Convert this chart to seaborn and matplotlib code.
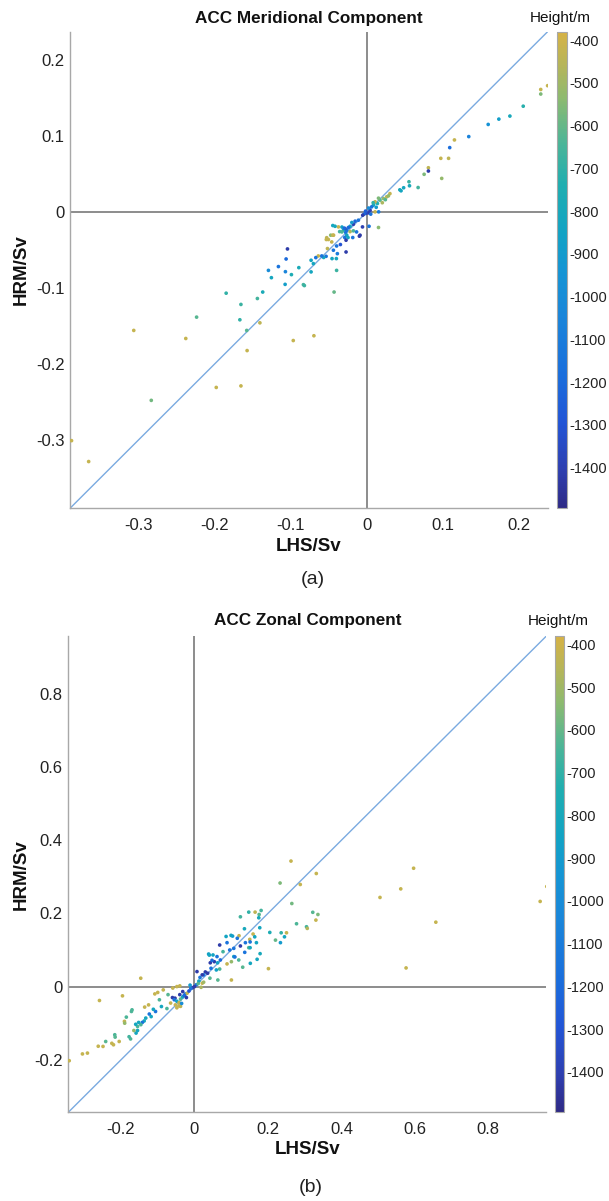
import numpy as np
import pandas as pd
import matplotlib
matplotlib.use("Agg")
import matplotlib.pyplot as plt
import seaborn as sns
from matplotlib.colors import LinearSegmentedColormap, Normalize
from matplotlib.cm import ScalarMappable

# ---------------- data: panel (a) ACC Meridional Component ----------------
a_lhs = [0.237, 0.228, 0.228, 0.205, 0.1875, 0.173, 0.159, 0.1335, 0.1147, 0.1085,
         0.0968, 0.107, 0.0805, 0.0805, 0.0749, 0.098, 0.067, 0.055, 0.0557, 0.048,
         0.0446, 0.043, 0.030, 0.0258, 0.0214, 0.017, 0.0136, 0.0105, 0.0083, 0.006,
         0.004, 0.0017, -0.0013, -0.004, -0.0057, 0.0048, 0.0105, 0.0152, 0.020, 0.024,
         0.012, 0.008, 0.015, 0.028, 0.002, -0.002, 0.015, 0.0026, -0.006, -0.0092,
         -0.0114, -0.0157, -0.018, -0.0223, -0.0245, -0.0267, -0.029, -0.031, -0.033, -0.0376,
         -0.042, -0.036, -0.028, -0.0267, -0.0223, -0.018, -0.0293, -0.025, -0.0188, -0.0101,
         -0.0276, -0.0477, -0.044, -0.0508, -0.053, -0.0464, -0.04, -0.052, -0.0442, -0.039,
         -0.0276, -0.0403, -0.046, -0.0538, -0.057, -0.0595, -0.064, -0.0673, -0.0735, -0.0705,
         -0.0735, -0.0896, -0.0993, -0.1045, -0.1063, -0.1164, -0.1072, -0.1295, -0.1256, -0.1076,
         -0.0836, -0.0823, -0.04, -0.0433, -0.185, -0.144, -0.137, -0.1656, -0.2238, -0.167,
         -0.1407, -0.158, -0.3063, -0.238, -0.1575, -0.0969, -0.0698, -0.198, -0.1656, -0.2833,
         -0.3655, -0.388, -0.0138, -0.030, -0.033, -0.045, -0.0535, -0.0449, -0.020, -0.035]
a_hrm = [0.166, 0.161, 0.155, 0.139, 0.126, 0.122, 0.115, 0.099, 0.0946, 0.0845,
         0.0704, 0.0704, 0.058, 0.0537, 0.0494, 0.044, 0.032, 0.0396, 0.0343, 0.0317,
         0.0277, 0.029, 0.024, 0.0198, 0.0176, 0.0154, 0.011, 0.0132, 0.0088, 0.0066,
         0.002, -0.0013, -0.002, -0.003, -0.0044, -0.003, 0.0, 0.0, 0.012, 0.016,
         0.006, 0.012, 0.018, 0.021, 0.005, 0.001, -0.0206, -0.019, -0.0198, -0.0307,
         -0.011, -0.0123, -0.0163, -0.019, -0.0206, -0.0242, -0.022, -0.024, -0.020, -0.0198,
         -0.019, -0.026, -0.027, -0.0307, -0.026, -0.025, -0.0338, -0.0338, -0.0338, -0.032,
         -0.0373, -0.0307, -0.0307, -0.0364, -0.034, -0.0396, -0.0449, -0.0483, -0.0505, -0.055,
         -0.0528, -0.0615, -0.0615, -0.0585, -0.060, -0.058, -0.058, -0.0602, -0.0637, -0.0681,
         -0.079, -0.0734, -0.0826, -0.0488, -0.062, -0.072, -0.0787, -0.077, -0.0866, -0.0954,
         -0.0958, -0.097, -0.077, -0.1055, -0.107, -0.114, -0.1055, -0.1218, -0.1385, -0.142,
         -0.146, -0.156, -0.156, -0.1666, -0.1825, -0.1693, -0.163, -0.231, -0.229, -0.248,
         -0.3285, -0.301, -0.0264, -0.0215, -0.0264, -0.018, -0.0364, -0.0307, -0.014, -0.043]
a_height = [-420, -420, -560, -720, -800, -880, -960, -1060, -420, -1180,
            -420, -440, -440, -1420, -560, -520, -660, -680, -800, -820,
            -840, -800, -420, -440, -520, -620, -740, -420, -820, -1150,
            -1400, -1420, -1350, -1200, -1420, -1150, -420, -1100, -480, -620,
            -900, -700, -560, -520, -1000, -1250, -540, -1150, -1400, -1420,
            -1150, -1200, -1400, -840, -1200, -1150, -1380, -820, -860, -420,
            -800, -660, -1150, -840, -480, -640, -1150, -820, -1150, -1420,
            -1420, -540, -420, -420, -440, -420, -1150, -440, -1150, -1100,
            -1420, -820, -820, -1150, -820, -1150, -420, -1150, -840, -820,
            -820, -780, -760, -1420, -1200, -1150, -1050, -1000, -820, -880,
            -660, -680, -680, -600, -700, -660, -780, -680, -620, -700,
            -440, -620, -420, -420, -420, -420, -420, -420, -420, -580,
            -420, -420, -1150, -1200, -640, -820, -420, -420, -900, -1300]

# ---------------- data: panel (b) ACC Zonal Component ----------------
b_lhs = [0.2627, 0.3316, 0.233, 0.288, 0.5965, 0.5615, 0.505, 0.959, 0.941, 0.657,
         0.576, 0.265, 0.322, 0.336, 0.3305, 0.305, 0.307, 0.2778, 0.2505, 0.236,
         0.245, 0.234, 0.2205, 0.205, 0.2013, 0.1814, 0.165, 0.1477, 0.125, 0.176,
         0.175, 0.1777, 0.136, 0.1595, 0.164, 0.1505, 0.1514, 0.1386, 0.1686, 0.1477,
         0.1514, 0.1368, 0.1786, 0.1705, 0.152, 0.1313, 0.1205, 0.107, 0.11, 0.1005,
         0.0886, 0.0777, 0.0613, 0.0504, 0.0385, 0.054, 0.043, 0.0477, 0.0704, 0.063,
         0.0686, 0.0595, 0.045, 0.0295, 0.0358, 0.025, 0.0068, 0.1213, 0.125, 0.0686,
         0.0886, 0.086, 0.0995, 0.107, 0.0959, 0.1165, 0.1037, 0.1005, 0.042, 0.0636,
         0.0404, 0.021, 0.015, 0.012, 0.0213, 0.025, 0.005, 0.0, -0.005, -0.01,
         -0.032, -0.04, -0.053, -0.06, -0.055, -0.048, -0.042, -0.038, -0.032, -0.025,
         -0.02, -0.0425, -0.048, -0.052, -0.038, -0.048, -0.04, -0.059, -0.085, -0.1,
         -0.108, -0.072, -0.0955, -0.09, -0.106, -0.112, -0.123, -0.118, -0.1326, -0.137,
         -0.142, -0.146, -0.152, -0.155, -0.16, -0.1716, -0.1356, -0.1463, -0.196, -0.2587,
         -0.1907, -0.1855, -0.19, -0.174, -0.178, -0.159, -0.155, -0.217, -0.216, -0.2205,
         -0.225, -0.2417, -0.249, -0.262, -0.2914, -0.305, -0.341, -0.125, -0.205, -0.17,
         -0.165, -0.015, -0.028, -0.065, -0.075, -0.012, 0.01, 0.018, -0.035, -0.022]
b_hrm = [0.343, 0.309, 0.283, 0.279, 0.3234, 0.267, 0.2436, 0.2735, 0.2327, 0.176,
         0.051, 0.227, 0.203, 0.197, 0.1817, 0.1635, 0.159, 0.1717, 0.147, 0.147,
         0.136, 0.12, 0.127, 0.148, 0.049, 0.208, 0.2035, 0.2035, 0.1907, 0.197,
         0.188, 0.1608, 0.158, 0.1436, 0.136, 0.129, 0.122, 0.12, 0.12, 0.1063,
         0.1063, 0.0936, 0.09, 0.0746, 0.0636, 0.053, 0.0727, 0.082, 0.081, 0.068,
         0.062, 0.0954, 0.082, 0.0864, 0.089, 0.068, 0.065, 0.0718, 0.0727, 0.065,
         0.048, 0.0455, 0.05, 0.04, 0.0365, 0.032, 0.041, 0.139, 0.111, 0.1136,
         0.12, 0.137, 0.14, 0.1045, 0.1, 0.132, 0.138, 0.018, 0.023, 0.018,
         0.086, 0.032, 0.025, 0.015, 0.0093, 0.012, 0.005, 0.0, -0.003, -0.005,
         -0.0136, -0.022, -0.0317, -0.030, -0.036, -0.040, -0.044, -0.034, -0.028, -0.02,
         -0.018, -0.0526, -0.058, -0.050, -0.054, 0.0, 0.002, -0.004, -0.009, -0.016,
         -0.02, -0.022, -0.036, -0.0545, -0.068, -0.062, -0.075, -0.082, -0.086, -0.094,
         -0.098, -0.104, -0.098, -0.109, -0.103, -0.068, -0.056, 0.0229, -0.0253, -0.038,
         -0.095, -0.0834, -0.1, -0.143, -0.137, -0.127, -0.12, -0.1316, -0.138, -0.159,
         -0.155, -0.15, -0.1635, -0.163, -0.1817, -0.184, -0.2025, -0.05, -0.15, -0.0635,
         -0.12, -0.012, -0.024, -0.045, -0.06, 0.004, 0.008, -0.002, -0.046, -0.03]
b_height = [-420, -420, -560, -420, -420, -420, -420, -420, -420, -420,
            -420, -580, -620, -560, -420, -660, -460, -640, -420, -700,
            -820, -900, -600, -760, -420, -660, -440, -700, -660, -620,
            -800, -820, -800, -420, -820, -420, -1150, -1150, -840, -620,
            -820, -1150, -800, -820, -820, -620, -640, -840, -1150, -520,
            -420, -660, -1150, -840, -860, -1420, -1420, -1200, -1200, -860,
            -640, -860, -1150, -1420, -1420, -1150, -1420, -420, -1420, -1420,
            -1150, -840, -840, -1150, -1150, -1150, -880, -420, -620, -620,
            -840, -1420, -1150, -840, -420, -500, -1150, -1420, -1420, -1150,
            -1420, -1420, -1420, -1420, -1150, -840, -420, -620, -820, -1150,
            -420, -420, -420, -420, -440, -420, -420, -420, -420, -420,
            -420, -620, -640, -820, -1150, -820, -1150, -820, -820, -820,
            -1150, -640, -820, -640, -820, -640, -420, -420, -420, -420,
            -420, -640, -520, -640, -660, -820, -820, -640, -620, -420,
            -420, -620, -420, -420, -420, -420, -420, -420, -420, -640,
            -520, -1300, -1200, -420, -640, -900, -620, -480, -1000, -1420]

a_ticks = [-0.3, -0.2, -0.1, 0, 0.1, 0.2]
a_ticklabels = ["-0.3", "-0.2", "-0.1", "0", "0.1", "0.2"]
b_ticks = [-0.2, 0, 0.2, 0.4, 0.6, 0.8]
b_ticklabels = ["-0.2", "0", "0.2", "0.4", "0.6", "0.8"]
cbar_ticks = [-400, -500, -600, -700, -800, -900, -1000, -1100, -1200, -1300, -1400]
titles = ["ACC Meridional Component", "ACC Zonal Component"]
panel_tags = ["(a)", "(b)"]

# ---------------- style ----------------
sns.set_theme(style="white")
plt.rcParams["font.family"] = ["Liberation Sans", "DejaVu Sans"]

cmap = LinearSegmentedColormap.from_list("parula_like", [
    (0.00, "#2e2a85"), (0.08, "#2e3fb0"), (0.18, "#2255d6"), (0.28, "#1a6edc"),
    (0.40, "#1a85da"), (0.50, "#1595d4"), (0.58, "#12a3c4"), (0.68, "#20aeb0"),
    (0.77, "#4db597"), (0.86, "#8cba70"), (0.93, "#b5b55a"), (1.00, "#d6b245")])
vmin, vmax = -1495, -380
norm = Normalize(vmin, vmax)

W, H = 609, 1201
fig = plt.figure(figsize=(W / 100, H / 100), dpi=100)

panels = [
    dict(lhs=a_lhs, hrm=a_hrm, h=a_height, lim=(-0.39, 0.237), ticks=a_ticks, labels=a_ticklabels,
         ax=(70, 31.7, 547.6, 508.3), cb=(557.3, 567), title_y=18, hm_x=560, xl_y=547, tag_y=580, tag_x=313),
    dict(lhs=b_lhs, hrm=b_hrm, h=b_height, lim=(-0.3435, 0.958), ticks=b_ticks, labels=b_ticklabels,
         ax=(68.3, 636, 546.4, 1112.3), cb=(554.6, 564), title_y=621, hm_x=558, xl_y=1150, tag_y=1188, tag_x=311),
]

grey_spine = "#a8a8a8"
for i, p in enumerate(panels):
    x0, y0, x1, y1 = p["ax"]
    ax = fig.add_axes([x0 / W, 1 - y1 / H, (x1 - x0) / W, (y1 - y0) / H])
    df = pd.DataFrame({"LHS": p["lhs"], "HRM": p["hrm"], "Height": p["h"]})
    ax.axhline(0, color="#8c8c8c", lw=1.4, zorder=1)
    ax.axvline(0, color="#8c8c8c", lw=1.4, zorder=1)
    ax.axline((0, 0), slope=1, color="#7aaae0", lw=1.0, zorder=2)
    sns.scatterplot(data=df, x="LHS", y="HRM", hue="Height", palette=cmap, hue_norm=norm,
                    s=7, linewidth=0, legend=False, ax=ax, zorder=3)
    ax.set_xlim(*p["lim"])
    ax.set_ylim(*p["lim"])
    ax.set_xticks(p["ticks"])
    ax.set_xticklabels(p["labels"])
    ax.set_yticks(p["ticks"])
    ax.set_yticklabels(p["labels"])
    ax.set_xlabel("")
    ax.set_ylabel("")
    for s in ["top", "right"]:
        ax.spines[s].set_visible(False)
    for s in ["left", "bottom"]:
        ax.spines[s].set_color(grey_spine)
        ax.spines[s].set_linewidth(1.0)
    ax.tick_params(axis="both", direction="in", length=3, width=0.8, color="#888888",
                   labelsize=12, labelcolor="#222222")
    ax.tick_params(axis="x", pad=7)
    ax.tick_params(axis="y", pad=4)
    ax.set_facecolor("white")

    # colorbar
    cx0, cx1 = p["cb"]
    cax = fig.add_axes([cx0 / W, 1 - y1 / H, (cx1 - cx0) / W, (y1 - y0) / H])
    sm = ScalarMappable(norm=norm, cmap=cmap)
    cb = fig.colorbar(sm, cax=cax, ticks=cbar_ticks)
    cb.ax.set_yticklabels([str(t) for t in cbar_ticks])
    cb.outline.set_edgecolor(grey_spine)
    cb.outline.set_linewidth(0.8)
    cb.ax.tick_params(direction="in", length=3, width=0.8, color="#555555",
                      labelsize=10.5, labelcolor="#222222", pad=2)

    # texts
    fig.text((x0 + x1) / 2 / W, 1 - p["title_y"] / H, titles[i], ha="center", va="center",
             fontsize=12.3, fontweight="bold", color="#111111")
    fig.text(p["hm_x"] / W, 1 - p["title_y"] / H, "Height/m", ha="center", va="center",
             fontsize=11, color="#111111")
    fig.text((x0 + x1) / 2 / W, 1 - p["xl_y"] / H, "LHS/Sv", ha="center", va="center",
             fontsize=13.5, fontweight="bold", color="#111111")
    fig.text(21 / W, 1 - (y0 + y1) / 2 / H, "HRM/Sv", ha="center", va="center", rotation=90,
             fontsize=13.5, fontweight="bold", color="#111111")
    fig.text(p["tag_x"] / W, 1 - p["tag_y"] / H, panel_tags[i], ha="center", va="center",
             fontsize=14, color="#222222")

fig.savefig("out.png", dpi=100, facecolor="white")
